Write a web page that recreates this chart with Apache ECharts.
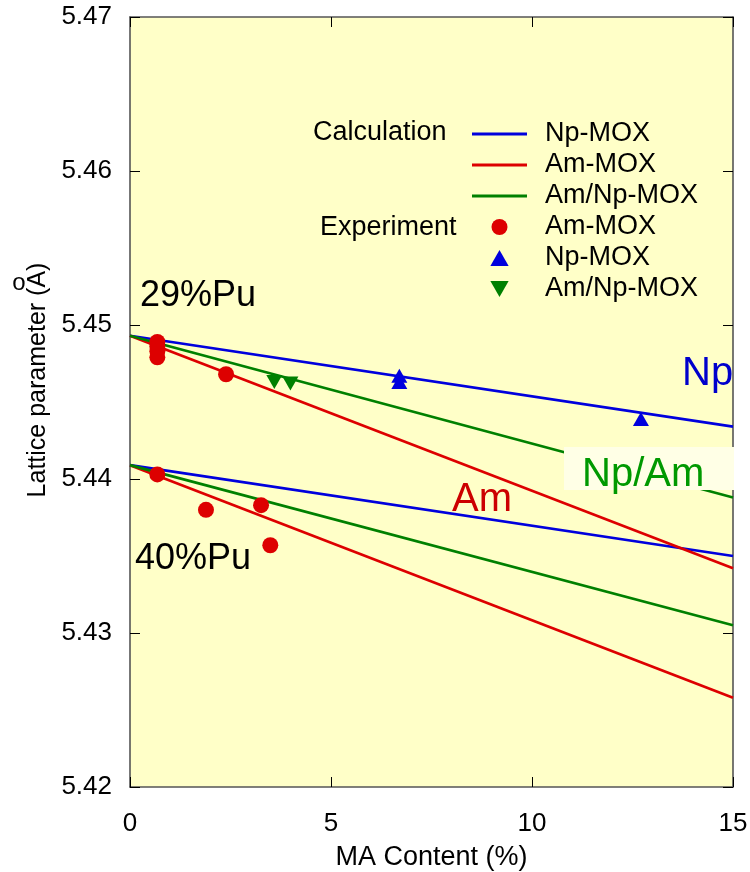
<!DOCTYPE html>
<html><head><meta charset="utf-8">
<script src="https://cdn.jsdelivr.net/npm/echarts@6/dist/echarts.min.js"></script>
<style>html,body{margin:0;padding:0;background:#fff}#c{width:750px;height:872px}</style>
</head><body><div id="c"></div>
<script>
// ---- data ----
const xEnds = [0, 15];
// calculation lines (29%Pu and 40%Pu)
const calcNp29   = [5.4493, 5.4434];
const calcAm29   = [5.4493, 5.4342];
const calcAmNp29 = [5.4493, 5.4388];
const calcNp40   = [5.4409, 5.4350];
const calcAm40   = [5.4409, 5.4258];
const calcAmNp40 = [5.4409, 5.4305];
// experiments
const expAmX   = [0.68, 0.68, 0.68, 0.68, 2.39, 0.68, 1.89, 3.26, 3.49];
const expAmY   = [5.4489, 5.4486, 5.4483, 5.4479, 5.4468, 5.4403, 5.4380, 5.4383, 5.4357];
const expNpX   = [6.70, 6.70, 12.71];
const expNpY   = [5.4467, 5.4463, 5.4439];
const expAmNpX = [3.59, 3.99];
const expAmNpY = [5.4463, 5.4462];
const xTicks = [0, 5, 10, 15];
const yTicks = [5.42, 5.43, 5.44, 5.45, 5.46, 5.47];
const legendLabels = {
  calcNp: 'Np-MOX', calcAm: 'Am-MOX', calcAmNp: 'Am/Np-MOX',
  expAm: 'Am-MOX', expNp: 'Np-MOX', expAmNp: 'Am/Np-MOX'
};

const BLUE = '#0000dd', RED = '#dd0000', GREEN = '#008000';
const FONT = 'Liberation Sans, Arial, Helvetica, sans-serif';
const pairs = (xs, ys) => xs.map((x, i) => [x, ys[i]]);
const TRI_UP = 'path://M8,0 L16,14 L0,14 Z';
const TRI_DOWN = 'path://M0,0 L16,0 L8,14 Z';
const LINE_ICON = 'path://M0,0 L55,0 L55,3 L0,3 Z';

function lineSeries(name, ys, color) {
  return {
    name, type: 'line', data: pairs(xEnds, ys), symbol: 'none', showSymbol: false, z: 2,
    lineStyle: { color, width: 2.7 }, itemStyle: { color }, silent: true, animation: false
  };
}
function scatterSeries(name, xs, ys, color, symbol, size) {
  return {
    name, type: 'scatter', data: pairs(xs, ys), symbol, symbolSize: size, z: 4,
    itemStyle: { color, opacity: 1 }, animation: false
  };
}

const axisLineStyle = { color: '#555', width: 1.6 };
const tickStyle = { color: '#000', width: 1 };

const option = {
  animation: false,
  textStyle: { fontFamily: FONT },
  grid: { left: 130, right: 17, top: 17, bottom: 85, show: true, backgroundColor: '#ffffc8', borderWidth: 0,
          containLabel: false, outerBoundsMode: 'none' },
  xAxis: [{
    type: 'value', min: xTicks[0], max: xTicks[xTicks.length - 1], interval: 5,
    axisLine: { show: true, onZero: false, lineStyle: axisLineStyle },
    axisTick: { show: true, inside: true, length: 10, lineStyle: tickStyle },
    axisLabel: { fontSize: 26, color: '#000', margin: 24, fontFamily: FONT },
    splitLine: { show: false },
    name: 'MA Content (%)', nameLocation: 'middle', nameGap: 57,
    nameTextStyle: { fontSize: 27, color: '#000', fontFamily: FONT }
  }, {
    type: 'value', position: 'top', min: 0, max: 15, interval: 5,
    axisLine: { show: true, onZero: false, lineStyle: axisLineStyle },
    axisTick: { show: true, inside: true, length: 10, lineStyle: tickStyle },
    axisLabel: { show: false }, splitLine: { show: false }
  }],
  yAxis: [{
    type: 'value', min: yTicks[0], max: yTicks[yTicks.length - 1], interval: 0.01,
    axisLine: { show: true, onZero: false, lineStyle: axisLineStyle },
    axisTick: { show: true, inside: true, length: 10, lineStyle: tickStyle },
    axisLabel: { fontSize: 26, color: '#000', margin: 18, fontFamily: FONT, formatter: v => v.toFixed(2) },
    splitLine: { show: false },
    name: 'Lattice parameter (A)', nameLocation: 'middle', nameGap: 76,
    nameTextStyle: { fontSize: 25, color: '#000', fontFamily: FONT, padding: [0, 0, 0, 44] }
  }, {
    type: 'value', position: 'right', min: 5.42, max: 5.47, interval: 0.01,
    axisLine: { show: true, onZero: false, lineStyle: axisLineStyle },
    axisTick: { show: true, inside: true, length: 10, lineStyle: tickStyle },
    axisLabel: { show: false }, splitLine: { show: false }
  }],
  legend: {
    orient: 'vertical', left: 467, top: 114, itemWidth: 55, itemHeight: 16, itemGap: 1,
    selectedMode: false,
    data: [
      { name: 'calcNp', icon: LINE_ICON },
      { name: 'calcAm', icon: LINE_ICON },
      { name: 'calcAmNp', icon: LINE_ICON },
      { name: 'expAm', icon: 'circle' },
      { name: 'expNp', icon: TRI_UP },
      { name: 'expAmNp', icon: TRI_DOWN }
    ],
    formatter: n => legendLabels[n],
    textStyle: { fontSize: 27, color: '#000', fontFamily: FONT, lineHeight: 30, padding: [0, 0, 0, 13] }
  },
  series: [
    lineSeries('calcNp', calcNp29, BLUE),
    lineSeries('calcNp', calcNp40, BLUE),
    lineSeries('calcAm', calcAm29, RED),
    lineSeries('calcAm', calcAm40, RED),
    lineSeries('calcAmNp', calcAmNp29, GREEN),
    lineSeries('calcAmNp', calcAmNp40, GREEN),
    scatterSeries('expAm', expAmX, expAmY, RED, 'circle', 16),
    scatterSeries('expNp', expNpX, expNpY, BLUE, TRI_UP, [16, 14]),
    scatterSeries('expAmNp', expAmNpX, expAmNpY, GREEN, TRI_DOWN, [16, 14])
  ],
  graphic: [
    { type: 'text', x: 313, y: 133, z: 100, style: { text: 'Calculation', font: '27px ' + FONT, fill: '#000', verticalAlign: 'middle' } },
    { type: 'text', x: 320, y: 228, z: 100, style: { text: 'Experiment', font: '27px ' + FONT, fill: '#000', verticalAlign: 'middle' } },
    { type: 'text', x: 140, y: 296, z: 100, style: { text: '29%Pu', font: '36px ' + FONT, fill: '#000', verticalAlign: 'middle' } },
    { type: 'text', x: 135, y: 559, z: 100, style: { text: '40%Pu', font: '36px ' + FONT, fill: '#000', verticalAlign: 'middle' } },
    { type: 'text', x: 682, y: 374, z: 100, style: { text: 'Np', font: '40px ' + FONT, fill: '#0000cc', verticalAlign: 'middle' } },
    { type: 'text', x: 452, y: 500, z: 100, style: { text: 'Am', font: '40px ' + FONT, fill: '#cc0000', verticalAlign: 'middle' } },
    { type: 'rect', z: 99, shape: { x: 564, y: 447, width: 170, height: 43 }, style: { fill: '#ffffe6' } },
    { type: 'text', x: 582, y: 475, z: 100, style: { text: 'Np/Am', font: '40px ' + FONT, fill: '#009900', verticalAlign: 'middle' } },
    { type: 'text', x: 19, y: 283, z: 100, style: { text: 'o', font: '24px ' + FONT, fill: '#000', align: 'center', verticalAlign: 'middle' } }
  ]
};
echarts.init(document.getElementById('c')).setOption(option);
</script>
</body></html>
